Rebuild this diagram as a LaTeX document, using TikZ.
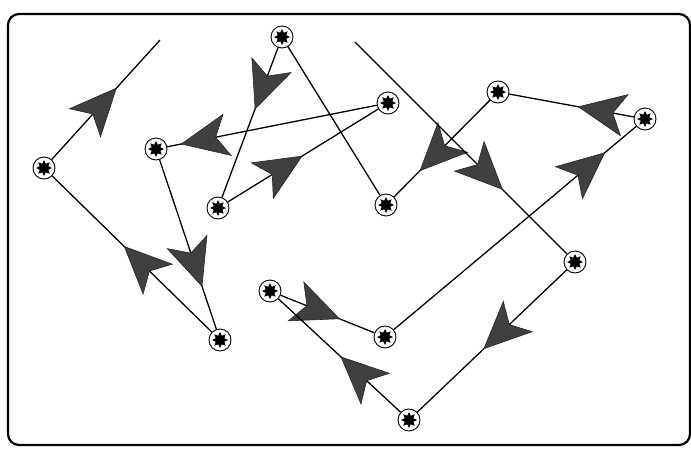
\documentclass[tikz,border=0pt]{standalone}
\usetikzlibrary{arrows.meta,decorations.markings,shapes.geometric}
\tikzset{
  dot/.style={circle,draw=black,line width=0.9pt,fill=white,minimum size=22pt,inner sep=0pt,
    path picture={\node[star,star points=8,star point ratio=1.7,fill=black,minimum size=16pt,inner sep=0pt] at (path picture bounding box.center) {};}},
  edge/.style={line width=1.3pt,black},
  dart/.tip={Stealth[length=48pt,width=43pt,inset=12pt,fill=black!75,color=black!85,line width=0.6pt]},
  midarrow/.style={postaction={decorate,decoration={markings,mark=at position #1 with {\arrow{dart}}}}},
  frame/.style={line width=2.2pt,rounded corners=11pt}
}
\begin{document}
\begin{tikzpicture}[x=1pt,y=-1pt]
\useasboundingbox (0,0) rectangle (691,448);
\draw[frame] (8,14) rectangle (690,445);
\coordinate (p1) at (160,40);
\coordinate (p2) at (355,42);
\node[dot] (a) at (44,168) {};
\node[dot] (b) at (156,149) {};
\node[dot] (c) at (218,208) {};
\node[dot] (d) at (282,37) {};
\node[dot] (e) at (388,103) {};
\node[dot] (f) at (386,205) {};
\node[dot] (g) at (498,92) {};
\node[dot] (h) at (645,119) {};
\node[dot] (i) at (575,262) {};
\node[dot] (j) at (270,291) {};
\node[dot] (k) at (385,337) {};
\node[dot] (l) at (409,420) {};
\node[dot] (m) at (220,340) {};
\draw[edge,midarrow=97pt] (a) -- (p1);
\draw[edge,midarrow=123pt] (m) -- (a);
\draw[edge,midarrow=134pt] (b) -- (m);
\draw[edge,midarrow=200pt] (e) -- (b);
\draw[edge,midarrow=88pt] (c) -- (e);
\draw[edge,midarrow=66pt] (d) -- (c);
\draw[edge] (d) -- (f);
\draw[edge,midarrow=100pt] (g) -- (f);
\draw[edge,midarrow=57pt] (h) -- (g);
\draw[edge,midarrow=276pt] (k) -- (h);
\draw[edge,midarrow=64pt] (j) -- (k);
\draw[edge,midarrow=82pt] (l) -- (j);
\draw[edge,midarrow=115pt] (i) -- (l);
\draw[edge,midarrow=209pt] (p2) -- (i);
\end{tikzpicture}
\end{document}
